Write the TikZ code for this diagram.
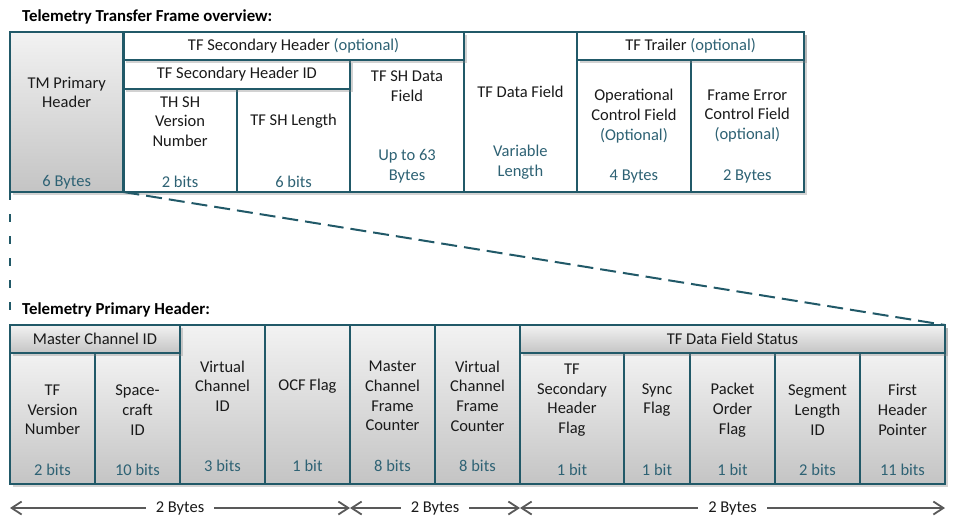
\documentclass[tikz,border=0pt]{standalone}
\usepackage{fontspec}
\setmainfont{Carlito}
\usetikzlibrary{arrows.meta,shadows}
\definecolor{tmborder}{HTML}{215968}
\definecolor{tmvalue}{HTML}{2E6274}
\definecolor{tmtext}{HTML}{1A1A1A}
\definecolor{tmarrow}{HTML}{595959}
\definecolor{tmtop}{HTML}{F2F2F2}
\definecolor{tmbot}{HTML}{C4C4C4}

\begin{document}
\begin{tikzpicture}[x=1pt,y=-1pt,
  cell/.style={draw=tmborder, line width=2.2pt, outer sep=0pt, inner sep=0pt, anchor=north west, fill=white},
  graycell/.style={cell, top color=tmtop, bottom color=tmbot},
  boxshadow/.style={drop shadow={shadow xshift=3pt, shadow yshift=-3pt, opacity=0.35}},
  lbl/.style={font=\fontsize{16.5}{19.7}\selectfont, text=tmtext, align=center, inner sep=0pt},
  val/.style={lbl, text=tmvalue},
  title/.style={font=\fontsize{16.8}{19.7}\selectfont\bfseries, text=black, anchor=west, inner sep=0pt},
  zoomline/.style={draw=tmborder, line width=2pt},
  dimarrow/.style={draw=tmarrow, line width=1.8pt, {Straight Barb[length=10pt,width=13pt]}-{Straight Barb[length=10pt,width=13pt]}},
  dimlbl/.style={lbl, fill=white, inner xsep=10pt, inner ysep=2pt}]
\useasboundingbox (0,0) rectangle (961,523);

\node[title] (tftitle) at (22,17) {Telemetry Transfer Frame overview:};
\node[title] (phtitle) at (22,310) {Telemetry Primary Header:};

\node[cell, boxshadow, minimum width=794pt, minimum height=160pt] (tf) at (10,32) {};
\node[graycell, minimum width=113.4pt, minimum height=160pt] (tmph) at (10,32) {};
\node[cell, minimum width=113.5pt, minimum height=103pt] (shvn) at (123.4,89) {};
\node[cell, minimum width=113.4pt, minimum height=103pt] (shlen) at (236.9,89) {};
\node[cell, minimum width=113.4pt, minimum height=132pt] (shdf) at (350.3,60) {};
\node[cell, minimum width=113.4pt, minimum height=160pt] (tfdf) at (463.7,32) {};
\node[cell, minimum width=113.5pt, minimum height=132pt] (ocf) at (577.1,60) {};
\node[cell, minimum width=113.4pt, minimum height=132pt] (fecf) at (690.6,60) {};
\node[cell, boxshadow, minimum width=226.9pt, minimum height=29pt] (shid) at (123.4,60) {};
\node[cell, boxshadow, minimum width=340.3pt, minimum height=28pt] (sh) at (123.4,32) {};
\node[cell, boxshadow, minimum width=226.9pt, minimum height=28pt] (trl) at (577.1,32) {};

\node[lbl] (shN) at (293.6,46) {TF Secondary Header \textcolor{tmvalue}{(optional)}};
\node[lbl] (shidN) at (236.9,74.5) {TF Secondary Header ID};
\node[lbl] (trlN) at (690.6,46) {TF Trailer \textcolor{tmvalue}{(optional)}};
\node[lbl] (tmphN) at (66.7,92.5) {TM Primary\\Header};
\node[val] (tmphV) at (66.7,182) {6 Bytes};
\node[lbl] (shvnN) at (180.1,121.5) {TH SH\\Version\\Number};
\node[val] (shvnV) at (180.1,182) {2 bits};
\node[lbl] (shlenN) at (293.6,121.5) {TF SH Length};
\node[val] (shlenV) at (293.6,182) {6 bits};
\node[lbl] (shdfN) at (407,86) {TF SH Data\\Field};
\node[val] (shdfV) at (407,166.5) {Up to 63\\Bytes};
\node[lbl] (tfdfN) at (520.4,92) {TF Data Field};
\node[val] (tfdfV) at (520.4,162) {Variable\\Length};
\node[lbl] (ocfN) at (633.9,116) {Operational\\Control Field\\\textcolor{tmvalue}{(Optional)}};
\node[val] (ocfV) at (633.9,176.5) {4 Bytes};
\node[lbl] (fecfN) at (747.3,116) {Frame Error\\Control Field\\\textcolor{tmvalue}{(optional)}};
\node[val] (fecfV) at (747.3,176.5) {2 Bytes};

\node[cell, boxshadow, minimum width=935pt, minimum height=159pt] (ph) at (10,325) {};
\node[graycell, minimum width=85pt, minimum height=131pt] (tfvn) at (10,353) {};
\node[graycell, minimum width=85pt, minimum height=131pt] (scid) at (95,353) {};
\node[graycell, minimum width=85pt, minimum height=159pt] (vcid) at (180,325) {};
\node[graycell, minimum width=85pt, minimum height=159pt] (ocff) at (265,325) {};
\node[graycell, minimum width=85pt, minimum height=159pt] (mcfc) at (350,325) {};
\node[graycell, minimum width=85pt, minimum height=159pt] (vcfc) at (435,325) {};
\node[graycell, minimum width=104pt, minimum height=131pt] (shf) at (520,353) {};
\node[graycell, minimum width=66pt, minimum height=131pt] (sync) at (624,353) {};
\node[graycell, minimum width=85pt, minimum height=131pt] (pof) at (690,353) {};
\node[graycell, minimum width=85pt, minimum height=131pt] (slid) at (775,353) {};
\node[graycell, minimum width=85pt, minimum height=131pt] (fhp) at (860,353) {};
\node[graycell, boxshadow, minimum width=170pt, minimum height=28pt] (mcid) at (10,325) {};
\node[graycell, boxshadow, minimum width=425pt, minimum height=28pt] (dfs) at (520,325) {};

\node[lbl] (mcidN) at (95,339) {Master Channel ID};
\node[lbl] (dfsN) at (732.5,339) {TF Data Field Status};
\node[lbl] (tfvnN) at (52.5,410) {TF\\Version\\Number};
\node[val] (tfvnV) at (52.5,470) {2 bits};
\node[lbl] (scidN) at (137.5,410) {Space-\\craft\\ID};
\node[val] (scidV) at (137.5,470) {10 bits};
\node[lbl] (vcidN) at (222.5,386) {Virtual\\Channel\\ID};
\node[val] (vcidV) at (222.5,466) {3 bits};
\node[lbl] (ocffN) at (307.5,386) {OCF Flag};
\node[val] (ocffV) at (307.5,466) {1 bit};
\node[lbl] (mcfcN) at (392.5,396) {Master\\Channel\\Frame\\Counter};
\node[val] (mcfcV) at (392.5,466) {8 bits};
\node[lbl] (vcfcN) at (477.5,396) {Virtual\\Channel\\Frame\\Counter};
\node[val] (vcfcV) at (477.5,466) {8 bits};
\node[lbl] (shfN) at (572,400) {TF\\Secondary\\Header\\Flag};
\node[val] (shfV) at (572,470) {1 bit};
\node[lbl] (syncN) at (657,400) {Sync\\Flag};
\node[val] (syncV) at (657,470) {1 bit};
\node[lbl] (pofN) at (732.5,410) {Packet\\Order\\Flag};
\node[val] (pofV) at (732.5,470) {1 bit};
\node[lbl] (slidN) at (817.5,410) {Segment\\Length\\ID};
\node[val] (slidV) at (817.5,470) {2 bits};
\node[lbl] (fhpN) at (902.5,410) {First\\Header\\Pointer};
\node[val] (fhpV) at (902.5,470) {11 bits};

\draw[zoomline, dash pattern=on 8pt off 14pt] (tmph.south west) -- (ph.north west);
\draw[zoomline, dash pattern=on 16pt off 7pt] (tmph.south east) -- (dfs.north east);

\path (10,508) coordinate(A) (350,508) coordinate(B) (520,508) coordinate(C) (945,508) coordinate(D);
\draw[dimarrow] (A) -- node[dimlbl] {2 Bytes} (B);
\draw[dimarrow] (B) -- node[dimlbl] {2 Bytes} (C);
\draw[dimarrow] (C) -- node[dimlbl] {2 Bytes} (D);
\end{tikzpicture}
\end{document}
